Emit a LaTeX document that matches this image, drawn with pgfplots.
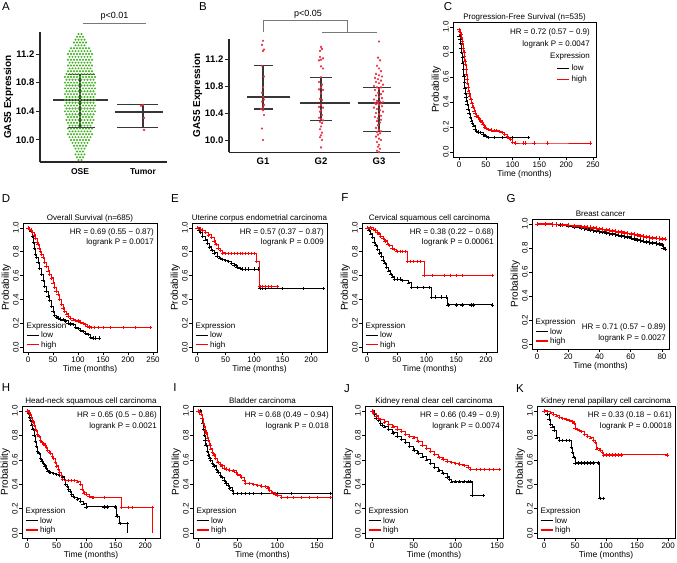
\documentclass[border=0pt]{standalone}
\usepackage{fontspec}
\setmainfont{Liberation Sans}
\usepackage{pgfplots}
\pgfplotsset{compat=1.18}
\definecolor{kmred}{RGB}{255,0,0}
\definecolor{osegreen}{RGB}{70,178,40}
\definecolor{dotred}{RGB}{235,45,65}
\definecolor{bargray}{RGB}{55,55,55}
\definecolor{brgray}{RGB}{120,120,120}
\newcommand{\legl}{\textcolor{black}{\rule[2.1bp]{12bp}{1bp}}}
\newcommand{\legh}{\textcolor{kmred}{\rule[2.1bp]{12bp}{1.1bp}}}
\newcommand{\kmleg}[1]{\node[anchor=south west, inner sep=0pt, font=\fontsize{8bp}{9.5bp}\selectfont, align=left] at ([xshift=3.5bp,yshift=#1]rel axis cs:0,0) {Expression\\\legl\hspace{2.5bp}low\\\legh\hspace{2.5bp}high};}
\newcommand{\kmhr}[2]{\node[anchor=north east, align=right, font=\fontsize{8bp}{10.5bp}\selectfont, inner sep=0pt] at ([xshift=-3bp,yshift=-5.5bp]rel axis cs:1,1) {HR = #1\\logrank P = #2};}
\pgfplotsset{
  km/.style={
    scale only axis, anchor=north west,
    ymin=-0.04, ymax=1.04,
    ytick={0,0.2,0.4,0.6,0.8,1},
    yticklabels={0.0,0.2,0.4,0.6,0.8,1.0},
    tick pos=left, tick align=outside,
    major tick length=3bp,
    tick style={black, line width=0.5bp},
    axis line style={line width=0.6bp},
    ticklabel style={font=\fontsize{8bp}{9bp}\selectfont},
    yticklabel style={rotate=90, anchor=south, inner sep=1bp},
    xticklabel style={inner sep=1.5bp},
    /pgf/number format/assume math mode=true,
    xlabel={Time (months)}, ylabel={Probability},
    xlabel style={font=\fontsize{8.5bp}{10bp}\selectfont, inner sep=1bp},
    ylabel style={font=\fontsize{10bp}{12bp}\selectfont, inner sep=1bp},
    title style={font=\fontsize{8bp}{9.6bp}\selectfont, inner sep=0pt, at={(0.5,1)}, anchor=base, yshift=-3.3bp},
  },
  kml/.style={black, line width=0.9bp, const plot, mark=+, mark size=1.7bp, mark options={solid, line width=0.45bp}, forget plot},
  kmh/.style={kmred, line width=0.9bp, const plot, mark=+, mark size=1.7bp, mark options={solid, line width=0.45bp}, forget plot},
  dotplot/.style={scale only axis, anchor=north west, clip=false,
    axis x line=bottom, axis y line=left, axis line style={-, line width=1.1bp, black!85},
    x axis line style={-}, y axis line style={-},
    tick align=outside, major tick length=4bp,
    x tick style={draw=none}, y tick style={line width=1bp, black!85},
    yticklabel style={font=\bfseries\fontsize{9.5bp}{11bp}\selectfont, inner sep=1.5bp},
    ylabel={GAS5 Expression}, ylabel style={font=\bfseries\fontsize{10bp}{12bp}\selectfont, inner sep=1bp},
  },
}
\begin{document}
\begin{tikzpicture}
\path[use as bounding box] (0,0) rectangle (677bp,-563bp);
% panel letters
\foreach \L/\X/\Y in {A/6/7,B/203/7,C/448/7,D/6/199,E/175/199,F/345/198,G/511/199,H/6/388,I/175/388,J/347/389,K/520/389}
  \node[font=\fontsize{11.5bp}{13bp}\selectfont, inner sep=0pt] at (\X bp,-\Y bp) {\L};

% ---------------- A ----------------
\begin{axis}[dotplot, at={(40bp,-32bp)}, width=127bp, height=130bp,
  xmin=40, xmax=167, ymin=9.693, ymax=11.507,
  ytick={10.0,10.4,10.8,11.2}, yticklabels={10.0,10.4,10.8,11.2},
  xtick={80,143}, xticklabels={OSE,Tumor},
  xticklabel style={font=\bfseries\fontsize{8.5bp}{10bp}\selectfont, inner sep=2bp}]
\addplot[only marks, color=osegreen, mark=*, mark size=0.8bp, mark options={solid, draw=none, fill=osegreen}] coordinates {
(78.5,11.48)(81.5,11.48)
(77,11.44)(80,11.44)(83,11.44)
(75.5,11.40)(78.5,11.40)(81.5,11.40)(84.5,11.40)
(74,11.36)(77,11.36)(80,11.36)(83,11.36)(86,11.36)
(75.5,11.32)(78.5,11.32)(81.5,11.32)(84.5,11.32)
(71,11.28)(74,11.28)(77,11.28)(80,11.28)(83,11.28)(86,11.28)(89,11.28)
(69.5,11.24)(72.5,11.24)(75.5,11.24)(78.5,11.24)(81.5,11.24)(84.5,11.24)(87.5,11.24)(90.5,11.24)
(68,11.20)(71,11.20)(74,11.20)(77,11.20)(80,11.20)(83,11.20)(86,11.20)(89,11.20)(92,11.20)
(69.5,11.16)(72.5,11.16)(75.5,11.16)(78.5,11.16)(81.5,11.16)(84.5,11.16)(87.5,11.16)(90.5,11.16)
(68,11.12)(71,11.12)(74,11.12)(77,11.12)(80,11.12)(83,11.12)(86,11.12)(89,11.12)(92,11.12)
(69.5,11.08)(72.5,11.08)(75.5,11.08)(78.5,11.08)(81.5,11.08)(84.5,11.08)(87.5,11.08)(90.5,11.08)
(68,11.04)(71,11.04)(74,11.04)(77,11.04)(80,11.04)(83,11.04)(86,11.04)(89,11.04)(92,11.04)
(69.5,11.00)(72.5,11.00)(75.5,11.00)(78.5,11.00)(81.5,11.00)(84.5,11.00)(87.5,11.00)(90.5,11.00)
(68,10.96)(71,10.96)(74,10.96)(77,10.96)(80,10.96)(83,10.96)(86,10.96)(89,10.96)(92,10.96)
(66.5,10.92)(69.5,10.92)(72.5,10.92)(75.5,10.92)(78.5,10.92)(81.5,10.92)(84.5,10.92)(87.5,10.92)(90.5,10.92)(93.5,10.92)
(65,10.88)(68,10.88)(71,10.88)(74,10.88)(77,10.88)(80,10.88)(83,10.88)(86,10.88)(89,10.88)(92,10.88)(95,10.88)
(66.5,10.84)(69.5,10.84)(72.5,10.84)(75.5,10.84)(78.5,10.84)(81.5,10.84)(84.5,10.84)(87.5,10.84)(90.5,10.84)(93.5,10.84)
(65,10.80)(68,10.80)(71,10.80)(74,10.80)(77,10.80)(80,10.80)(83,10.80)(86,10.80)(89,10.80)(92,10.80)(95,10.80)
(66.5,10.76)(69.5,10.76)(72.5,10.76)(75.5,10.76)(78.5,10.76)(81.5,10.76)(84.5,10.76)(87.5,10.76)(90.5,10.76)(93.5,10.76)
(65,10.72)(68,10.72)(71,10.72)(74,10.72)(77,10.72)(80,10.72)(83,10.72)(86,10.72)(89,10.72)(92,10.72)(95,10.72)
(66.5,10.68)(69.5,10.68)(72.5,10.68)(75.5,10.68)(78.5,10.68)(81.5,10.68)(84.5,10.68)(87.5,10.68)(90.5,10.68)(93.5,10.68)
(65,10.64)(68,10.64)(71,10.64)(74,10.64)(77,10.64)(80,10.64)(83,10.64)(86,10.64)(89,10.64)(92,10.64)(95,10.64)
(66.5,10.60)(69.5,10.60)(72.5,10.60)(75.5,10.60)(78.5,10.60)(81.5,10.60)(84.5,10.60)(87.5,10.60)(90.5,10.60)(93.5,10.60)
(65,10.56)(68,10.56)(71,10.56)(74,10.56)(77,10.56)(80,10.56)(83,10.56)(86,10.56)(89,10.56)(92,10.56)(95,10.56)
(66.5,10.52)(69.5,10.52)(72.5,10.52)(75.5,10.52)(78.5,10.52)(81.5,10.52)(84.5,10.52)(87.5,10.52)(90.5,10.52)(93.5,10.52)
(65,10.48)(68,10.48)(71,10.48)(74,10.48)(77,10.48)(80,10.48)(83,10.48)(86,10.48)(89,10.48)(92,10.48)(95,10.48)
(66.5,10.44)(69.5,10.44)(72.5,10.44)(75.5,10.44)(78.5,10.44)(81.5,10.44)(84.5,10.44)(87.5,10.44)(90.5,10.44)(93.5,10.44)
(65,10.40)(68,10.40)(71,10.40)(74,10.40)(77,10.40)(80,10.40)(83,10.40)(86,10.40)(89,10.40)(92,10.40)(95,10.40)
(66.5,10.36)(69.5,10.36)(72.5,10.36)(75.5,10.36)(78.5,10.36)(81.5,10.36)(84.5,10.36)(87.5,10.36)(90.5,10.36)(93.5,10.36)
(68,10.32)(71,10.32)(74,10.32)(77,10.32)(80,10.32)(83,10.32)(86,10.32)(89,10.32)(92,10.32)
(66.5,10.28)(69.5,10.28)(72.5,10.28)(75.5,10.28)(78.5,10.28)(81.5,10.28)(84.5,10.28)(87.5,10.28)(90.5,10.28)(93.5,10.28)
(68,10.24)(71,10.24)(74,10.24)(77,10.24)(80,10.24)(83,10.24)(86,10.24)(89,10.24)(92,10.24)
(69.5,10.20)(72.5,10.20)(75.5,10.20)(78.5,10.20)(81.5,10.20)(84.5,10.20)(87.5,10.20)(90.5,10.20)
(68,10.16)(71,10.16)(74,10.16)(77,10.16)(80,10.16)(83,10.16)(86,10.16)(89,10.16)(92,10.16)
(69.5,10.12)(72.5,10.12)(75.5,10.12)(78.5,10.12)(81.5,10.12)(84.5,10.12)(87.5,10.12)(90.5,10.12)
(68,10.08)(71,10.08)(74,10.08)(77,10.08)(80,10.08)(83,10.08)(86,10.08)(89,10.08)(92,10.08)
(69.5,10.04)(72.5,10.04)(75.5,10.04)(78.5,10.04)(81.5,10.04)(84.5,10.04)(87.5,10.04)(90.5,10.04)
(71,10.00)(74,10.00)(77,10.00)(80,10.00)(83,10.00)(86,10.00)(89,10.00)
(72.5,9.96)(75.5,9.96)(78.5,9.96)(81.5,9.96)(84.5,9.96)(87.5,9.96)
(74,9.92)(77,9.92)(80,9.92)(83,9.92)(86,9.92)
(75.5,9.88)(78.5,9.88)(81.5,9.88)(84.5,9.88)
(77,9.84)(80,9.84)(83,9.84)
(75.5,9.80)(78.5,9.80)(81.5,9.80)(84.5,9.80)
(77,9.76)(80,9.76)(83,9.76)
(78.5,9.72)(81.5,9.72)
};
\addplot[only marks, color=dotred, mark=*, mark size=1bp, mark options={solid, draw=none, fill=dotred}] coordinates {(143,10.49)(141,10.48)(144,10.31)(144,10.14)};
\addplot[bargray, line width=1.3bp] coordinates {(53,10.56)(108,10.56)};
\addplot[bargray, line width=1.1bp] coordinates {(80,10.17)(80,10.92)};
\addplot[bargray, line width=1.1bp] coordinates {(68,10.92)(95,10.92)};
\addplot[bargray, line width=1.1bp] coordinates {(68,10.17)(95,10.17)};
\addplot[bargray, line width=1.3bp] coordinates {(115,10.39)(163,10.39)};
\addplot[bargray, line width=1.1bp] coordinates {(143,10.18)(143,10.49)};
\addplot[bargray, line width=1.1bp] coordinates {(117,10.49)(158,10.49)};
\addplot[bargray, line width=1.1bp] coordinates {(117,10.18)(158,10.18)};
\addplot[brgray, line width=0.8bp] coordinates {(83,11.63)(146,11.63)};
\node[font=\fontsize{9bp}{10bp}\selectfont, anchor=base] at (axis cs:114.5,11.70) {p<0.01};
\end{axis}

% ---------------- B ----------------
\begin{axis}[dotplot, at={(229bp,-38.75bp)}, width=171bp, height=113.4bp,
  xmin=229, xmax=400, ymin=9.82, ymax=11.5,
  ytick={10.0,10.4,10.8,11.2}, yticklabels={10.0,10.4,10.8,11.2},
  xtick={263,321,379}, xticklabels={G1,G2,G3},
  xticklabel style={font=\bfseries\fontsize{9.5bp}{11bp}\selectfont, inner sep=2bp}]
\addplot[only marks, color=dotred, mark=*, mark size=0.9bp, mark options={solid, draw=none, fill=dotred}] coordinates {
(263,11.47)(262,11.41)(264,11.34)(263,11.32)(262,11.10)(264,10.94)(263,10.78)(262,10.70)(263,10.64)(264,10.60)(262,10.57)(264,10.52)(263,10.48)(261,10.46)(263,10.44)(264,10.37)(262,10.17)(263,10.00)
(321,11.38)(322,11.35)(320,11.32)(320,11.23)(323,11.21)(321,11.19)(319,11.18)(321,11.09)(323,11.06)(321,10.93)(319,10.86)(322,10.82)(321,10.78)(319,10.75)(323,10.74)(321,10.69)(320,10.61)(322,10.59)(321,10.52)(319,10.49)(323,10.48)(321,10.44)(320,10.42)(322,10.37)(319,10.33)(321,10.31)(323,10.29)(320,10.27)(322,10.25)(321,10.20)(320,10.16)(322,10.11)(321,10.07)(320,10.04)(322,10.00)(321,9.89)
(379,11.46)(378,11.22)(380,11.18)(377,11.10)(379,11.06)(381,11.02)(376,10.98)(379,10.96)(382,10.94)(375,10.92)(378,10.90)(381,10.88)(376,10.86)(379,10.84)(383,10.82)(374,10.80)(377,10.78)(381,10.78)(379,10.76)(375,10.74)(383,10.72)(378,10.70)(381,10.68)(376,10.66)(379,10.64)(382,10.62)(374,10.60)(377,10.58)(380,10.57)(383,10.56)(375,10.55)(378,10.55)(381,10.54)(376,10.53)(379,10.52)(382,10.50)(374,10.48)(377,10.46)(380,10.44)(383,10.42)(376,10.40)(379,10.38)(381,10.36)(375,10.34)(378,10.32)(381,10.30)(377,10.28)(380,10.26)(378,10.22)(376,10.18)(379,10.15)(381,10.13)(377,10.12)(380,10.10)(378,10.08)(376,10.05)(379,10.02)(381,10.00)(377,9.97)(379,9.93)(378,9.90)(380,9.87)(377,9.84)(379,9.82)
};
\addplot[bargray, line width=1.3bp] coordinates {(247,10.637)(290,10.637)};
\addplot[bargray, line width=1.1bp] coordinates {(263,10.46)(263,11.10)};
\addplot[bargray, line width=1.1bp] coordinates {(254,11.10)(273,11.10)};
\addplot[bargray, line width=1.1bp] coordinates {(254,10.46)(273,10.46)};
\addplot[bargray, line width=1.3bp] coordinates {(300,10.55)(350,10.55)};
\addplot[bargray, line width=1.1bp] coordinates {(321,10.29)(321,10.93)};
\addplot[bargray, line width=1.1bp] coordinates {(310,10.93)(332,10.93)};
\addplot[bargray, line width=1.1bp] coordinates {(310,10.29)(332,10.29)};
\addplot[bargray, line width=1.3bp] coordinates {(358,10.55)(400,10.55)};
\addplot[bargray, line width=1.1bp] coordinates {(379,10.12)(379,10.78)};
\addplot[bargray, line width=1.1bp] coordinates {(363,10.78)(391,10.78)};
\addplot[bargray, line width=1.1bp] coordinates {(363,10.12)(391,10.12)};
\addplot[brgray, line width=0.8bp] coordinates {(263,11.60)(263,11.778)(347,11.778)(347,11.60)};
\addplot[brgray, line width=0.8bp] coordinates {(322,11.60)(377,11.60)};
\node[font=\fontsize{9bp}{10bp}\selectfont, anchor=base] at (axis cs:308,11.83) {p<0.05};
\end{axis}

% ---------------- C ----------------
\begin{axis}[km, at={(453bp,-22bp)}, width=143bp, height=135bp, xmin=-11.2, xmax=255.6,
  xtick={0,50,100,150,200,250}, title={Progression-Free Survival (n=535)}]
\addplot[kml] coordinates {(0,0.93)(2,0.90)(3,0.87)(4,0.83)(5,0.80)(6,0.76)(7,0.71)(8,0.66)(9,0.61)(10,0.56)(11,0.51)(12,0.47)(13,0.44)(14,0.41)(15,0.38)(17,0.34)(19,0.31)(21,0.28)(23,0.25)(25,0.23)(27,0.21)(30,0.18)(33,0.165)(36,0.16)(40,0.155)(45,0.14)(48,0.13)(50,0.125)(55,0.115)(65,0.115)(80,0.115)(100,0.115)(130,0.115)};
\addplot[kmh] coordinates {(0,0.98)(1,0.97)(3,0.96)(4,0.94)(5,0.92)(6,0.89)(7,0.86)(8,0.83)(9,0.80)(10,0.77)(11,0.73)(12,0.70)(13,0.66)(14,0.62)(15,0.58)(16,0.55)(17,0.52)(18,0.49)(19,0.47)(20,0.45)(22,0.42)(24,0.39)(26,0.36)(28,0.33)(30,0.31)(32,0.29)(35,0.28)(38,0.265)(40,0.25)(43,0.235)(45,0.22)(48,0.20)(50,0.19)(55,0.18)(60,0.175)(65,0.17)(70,0.17)(75,0.165)(80,0.155)(85,0.14)(90,0.125)(93,0.11)(96,0.10)(100,0.075)(105,0.072)(120,0.072)(123,0.072)(140,0.072)(165,0.072)(245,0.072)};
\node[anchor=north east, align=right, font=\fontsize{8bp}{12bp}\selectfont, inner sep=0pt] at ([xshift=-6bp,yshift=-7bp]rel axis cs:1,1) {HR = 0.72 (0.57 − 0.9)\\logrank P = 0.0047\\Expression};
\node[anchor=north east, align=left, font=\fontsize{8bp}{11bp}\selectfont, inner sep=0pt] at ([xshift=-9bp,yshift=-43bp]rel axis cs:1,1) {\legl\hspace{2.5bp}low\\\legh\hspace{2.5bp}high};
\end{axis}

% ---------------- D ----------------
\begin{axis}[km, at={(23bp,-223bp)}, width=134bp, height=129bp, xmin=-10, xmax=258,
  xtick={0,50,100,150,200,250}, title={Overall Survival (n=685)}]
\addplot[kml] coordinates {(0,1)(3,0.99)(6,0.97)(9,0.93)(11,0.88)(13,0.83)(15,0.78)(17,0.75)(20,0.71)(23,0.66)(27,0.61)(30,0.56)(33,0.51)(36,0.47)(40,0.43)(43,0.39)(47,0.34)(50,0.30)(53,0.27)(57,0.255)(60,0.245)(65,0.235)(70,0.23)(75,0.22)(80,0.20)(85,0.195)(90,0.19)(95,0.165)(100,0.155)(105,0.14)(110,0.13)(115,0.115)(120,0.105)(125,0.08)(130,0.076)(135,0.076)(143,0.076)};
\addplot[kmh] coordinates {(0,1)(3,0.99)(6,0.98)(9,0.96)(12,0.94)(15,0.91)(18,0.88)(20,0.86)(22,0.83)(25,0.80)(27,0.78)(30,0.75)(33,0.71)(36,0.68)(40,0.64)(43,0.61)(47,0.58)(50,0.54)(53,0.50)(56,0.47)(60,0.44)(63,0.40)(67,0.36)(70,0.33)(73,0.30)(77,0.28)(80,0.26)(85,0.245)(90,0.23)(95,0.225)(100,0.22)(105,0.21)(110,0.20)(115,0.19)(118,0.175)(122,0.17)(127,0.165)(132,0.165)(140,0.165)(150,0.165)(165,0.165)(190,0.165)(215,0.165)(245,0.165)};
\kmhr{0.69 (0.55 − 0.87)}{0.0017}
\kmleg{3bp}
\end{axis}

% ---------------- E ----------------
\begin{axis}[km, at={(192bp,-223bp)}, width=135bp, height=129bp, xmin=-8.8, xmax=228,
  xtick={0,50,100,150,200}, title={Uterine corpus endometrial carcinoma}]
\addplot[kml] coordinates {(0,1)(3,0.98)(6,0.96)(10,0.93)(14,0.90)(18,0.87)(22,0.84)(26,0.81)(30,0.79)(35,0.76)(40,0.745)(45,0.735)(50,0.725)(55,0.72)(60,0.70)(65,0.69)(70,0.67)(75,0.66)(80,0.655)(85,0.655)(90,0.655)(100,0.655)(108,0.655)(110,0.49)(115,0.49)(120,0.49)(150,0.49)(187,0.49)(222,0.49)};
\addplot[kmh] coordinates {(0,1)(5,0.99)(10,0.98)(15,0.96)(20,0.94)(25,0.92)(30,0.89)(33,0.86)(37,0.83)(41,0.81)(45,0.79)(50,0.785)(55,0.785)(60,0.785)(65,0.785)(70,0.785)(75,0.785)(80,0.785)(85,0.785)(90,0.785)(95,0.785)(100,0.785)(104,0.72)(110,0.51)(115,0.51)(120,0.51)(125,0.51)(130,0.51)(140,0.51)};
\kmhr{0.57 (0.37 − 0.87)}{0.009}
\kmleg{3bp}
\end{axis}

% ---------------- F ----------------
\begin{axis}[km, at={(362bp,-223bp)}, width=135bp, height=129bp, xmin=-8.4, xmax=218.5,
  xtick={0,50,100,150,200}, title={Cervical squamous cell carcinoma}]
\addplot[kml] coordinates {(0,1)(3,0.98)(6,0.95)(9,0.92)(12,0.88)(15,0.85)(18,0.82)(21,0.79)(24,0.76)(27,0.73)(30,0.70)(33,0.67)(36,0.64)(40,0.61)(43,0.59)(46,0.57)(50,0.57)(55,0.57)(60,0.56)(70,0.54)(75,0.50)(85,0.50)(95,0.50)(105,0.50)(108,0.42)(115,0.42)(125,0.42)(133,0.42)(136,0.355)(150,0.355)(160,0.355)(175,0.355)(178,0.355)(211,0.355)};
\addplot[kmh] coordinates {(0,1)(5,1)(10,0.99)(13,0.98)(17,0.96)(20,0.95)(23,0.93)(27,0.91)(30,0.89)(35,0.86)(38,0.85)(42,0.83)(45,0.82)(50,0.80)(55,0.80)(60,0.80)(65,0.80)(68,0.72)(72,0.72)(78,0.72)(85,0.72)(90,0.72)(96,0.60)(110,0.60)(130,0.60)(140,0.60)(150,0.60)(160,0.60)(211,0.60)};
\kmhr{0.38 (0.22 − 0.68)}{0.00061}
\kmleg{3bp}
\end{axis}

% ---------------- G ----------------
\begin{axis}[km, at={(532bp,-219bp)}, width=137bp, height=130bp, xmin=-3.2, xmax=84.5,
  xtick={0,20,40,60,80}, title={Breast cancer}]
\addplot[kml, line width=1.5bp, mark size=2.2bp] coordinates {(0,1)(5,0.997)(10,0.993)(15,0.988)(20,0.982)(24,0.975)(28,0.965)(30,0.96)(32,0.955)(34,0.95)(36,0.945)(38,0.94)(40,0.935)(42,0.93)(44,0.925)(46,0.92)(48,0.915)(50,0.91)(52,0.905)(54,0.90)(56,0.895)(58,0.89)(60,0.88)(62,0.875)(64,0.865)(66,0.86)(68,0.855)(70,0.85)(72,0.845)(74,0.84)(76,0.835)(78,0.832)(80,0.825)(81,0.80)(82,0.79)};
\addplot[kmh, line width=1.5bp, mark size=2.2bp] coordinates {(0,1)(5,0.997)(10,0.994)(12,0.993)(16,0.99)(20,0.986)(24,0.982)(28,0.976)(30,0.974)(32,0.971)(34,0.968)(36,0.965)(38,0.962)(40,0.958)(42,0.954)(44,0.95)(46,0.946)(48,0.942)(50,0.938)(52,0.934)(54,0.93)(56,0.926)(58,0.921)(60,0.916)(62,0.911)(64,0.906)(66,0.901)(68,0.896)(70,0.891)(72,0.887)(74,0.883)(76,0.88)(78,0.877)(80,0.875)(82,0.874)};
\node[anchor=south east, align=right, font=\fontsize{8bp}{10.5bp}\selectfont, inner sep=0pt] at ([xshift=-3bp,yshift=7bp]rel axis cs:1,0) {HR = 0.71 (0.57 − 0.89)\\logrank P = 0.0027};
\kmleg{3.5bp}
\end{axis}

% ---------------- H ----------------
\begin{axis}[km, at={(22bp,-406bp)}, width=138bp, height=132bp, xmin=-8.5, xmax=225,
  xtick={0,50,100,150,200}, title={Head-neck squamous cell carcinoma}]
\addplot[kml] coordinates {(0,1)(2,0.98)(4,0.95)(6,0.92)(8,0.88)(10,0.85)(12,0.80)(14,0.75)(16,0.71)(18,0.67)(20,0.65)(23,0.61)(25,0.59)(28,0.57)(30,0.55)(33,0.53)(35,0.51)(38,0.50)(40,0.495)(45,0.49)(50,0.48)(55,0.47)(60,0.46)(63,0.44)(65,0.40)(68,0.38)(70,0.36)(73,0.34)(75,0.32)(78,0.30)(80,0.29)(85,0.28)(90,0.26)(95,0.24)(100,0.215)(130,0.215)(135,0.215)(150,0.215)(152,0.14)(157,0.077)(170,0.077)};
\addplot[black, line width=0.9bp, forget plot] coordinates {(170,0.077)(170,0)};
\addplot[kmh] coordinates {(0,1)(3,0.99)(5,0.97)(8,0.94)(10,0.91)(12,0.88)(15,0.84)(18,0.81)(20,0.79)(23,0.76)(25,0.74)(28,0.73)(30,0.72)(33,0.70)(35,0.68)(38,0.665)(40,0.65)(43,0.63)(45,0.61)(48,0.58)(50,0.55)(53,0.52)(55,0.50)(58,0.47)(60,0.44)(65,0.43)(70,0.43)(75,0.43)(80,0.43)(85,0.42)(90,0.40)(93,0.36)(96,0.33)(100,0.32)(105,0.30)(110,0.29)(112,0.29)(130,0.29)(160,0.21)(172,0.21)(178,0.21)(212,0.21)};
\addplot[kmred, line width=0.9bp, forget plot] coordinates {(212,0.21)(212,0)};
\kmhr{0.65 (0.5 − 0.86)}{0.0021}
\kmleg{3.5bp}
\end{axis}

% ---------------- I ----------------
\begin{axis}[km, at={(193bp,-406bp)}, width=139bp, height=132bp, xmin=-6.3, xmax=169,
  xtick={0,50,100,150}, title={Bladder carcinoma}]
\addplot[kml] coordinates {(0,1)(3,1)(4,0.97)(5,0.94)(6,0.90)(7,0.85)(8,0.80)(9,0.76)(10,0.72)(12,0.67)(13,0.64)(15,0.61)(16,0.595)(18,0.57)(20,0.55)(23,0.52)(25,0.50)(28,0.47)(30,0.455)(33,0.43)(35,0.41)(38,0.39)(40,0.37)(43,0.35)(45,0.325)(50,0.325)(55,0.325)(60,0.325)(65,0.325)(70,0.325)(80,0.325)(100,0.325)(117,0.325)(167,0.325)};
\addplot[kmh] coordinates {(0,1)(2,0.99)(4,0.97)(5,0.94)(7,0.90)(8,0.87)(9,0.84)(10,0.82)(12,0.78)(13,0.76)(15,0.72)(16,0.69)(18,0.66)(20,0.64)(22,0.61)(25,0.58)(28,0.56)(30,0.55)(33,0.53)(35,0.525)(40,0.515)(45,0.51)(48,0.50)(50,0.48)(53,0.47)(55,0.455)(58,0.43)(60,0.41)(65,0.405)(70,0.40)(75,0.39)(80,0.385)(85,0.38)(88,0.37)(90,0.35)(93,0.33)(97,0.32)(100,0.31)(105,0.29)(112,0.29)(120,0.29)(130,0.29)(140,0.29)(150,0.29)(167,0.29)};
\kmhr{0.68 (0.49 − 0.94)}{0.018}
\kmleg{3.5bp}
\end{axis}

% ---------------- J ----------------
\begin{axis}[km, at={(365bp,-406bp)}, width=138bp, height=132bp, xmin=-8.4, xmax=157,
  xtick={0,50,100,150}, title={Kidney renal clear cell carcinoma}]
\addplot[kml] coordinates {(0,1)(3,0.97)(5,0.94)(8,0.92)(10,0.90)(12,0.88)(15,0.87)(20,0.85)(25,0.82)(30,0.79)(35,0.765)(40,0.74)(45,0.71)(50,0.68)(55,0.655)(60,0.625)(65,0.60)(70,0.57)(75,0.54)(80,0.51)(85,0.49)(90,0.46)(93,0.44)(95,0.42)(100,0.42)(105,0.42)(110,0.42)(115,0.42)(118,0.42)(120,0.31)(133,0.31)};
\addplot[kmh] coordinates {(0,1)(2,0.98)(5,0.96)(8,0.94)(10,0.93)(15,0.91)(20,0.89)(25,0.87)(30,0.85)(35,0.83)(40,0.81)(45,0.795)(50,0.78)(55,0.75)(60,0.72)(65,0.695)(70,0.67)(75,0.645)(80,0.62)(85,0.605)(90,0.59)(95,0.58)(100,0.57)(105,0.565)(110,0.555)(115,0.54)(118,0.52)(125,0.52)(130,0.52)(135,0.52)(140,0.52)(145,0.52)(152,0.52)};
\kmhr{0.66 (0.49 − 0.9)}{0.0074}
\kmleg{3.5bp}
\end{axis}

% ---------------- K ----------------
\begin{axis}[km, at={(537bp,-406bp)}, width=138bp, height=132bp, xmin=-11.3, xmax=211,
  xtick={0,50,100,150,200}, title={Kidney renal papillary cell carcinoma}]
\addplot[kml] coordinates {(0,1)(5,0.97)(8,0.93)(10,0.89)(13,0.87)(16,0.84)(20,0.78)(25,0.76)(30,0.76)(35,0.76)(40,0.76)(44,0.70)(46,0.66)(48,0.62)(50,0.575)(55,0.575)(60,0.575)(65,0.575)(70,0.575)(75,0.575)(80,0.575)(88,0.575)(90,0.285)(95,0.285)};
\addplot[kmh] coordinates {(0,1)(5,0.995)(10,0.985)(15,0.97)(20,0.96)(25,0.95)(30,0.94)(35,0.93)(40,0.92)(45,0.915)(48,0.90)(50,0.86)(53,0.85)(57,0.84)(60,0.83)(65,0.81)(70,0.79)(75,0.78)(80,0.76)(83,0.74)(85,0.69)(90,0.68)(94,0.66)(96,0.64)(100,0.64)(105,0.64)(110,0.64)(115,0.64)(120,0.64)(125,0.64)(198,0.64)};
\kmhr{0.33 (0.18 − 0.61)}{0.00018}
\kmleg{3.5bp}
\end{axis}
\end{tikzpicture}
\end{document}
